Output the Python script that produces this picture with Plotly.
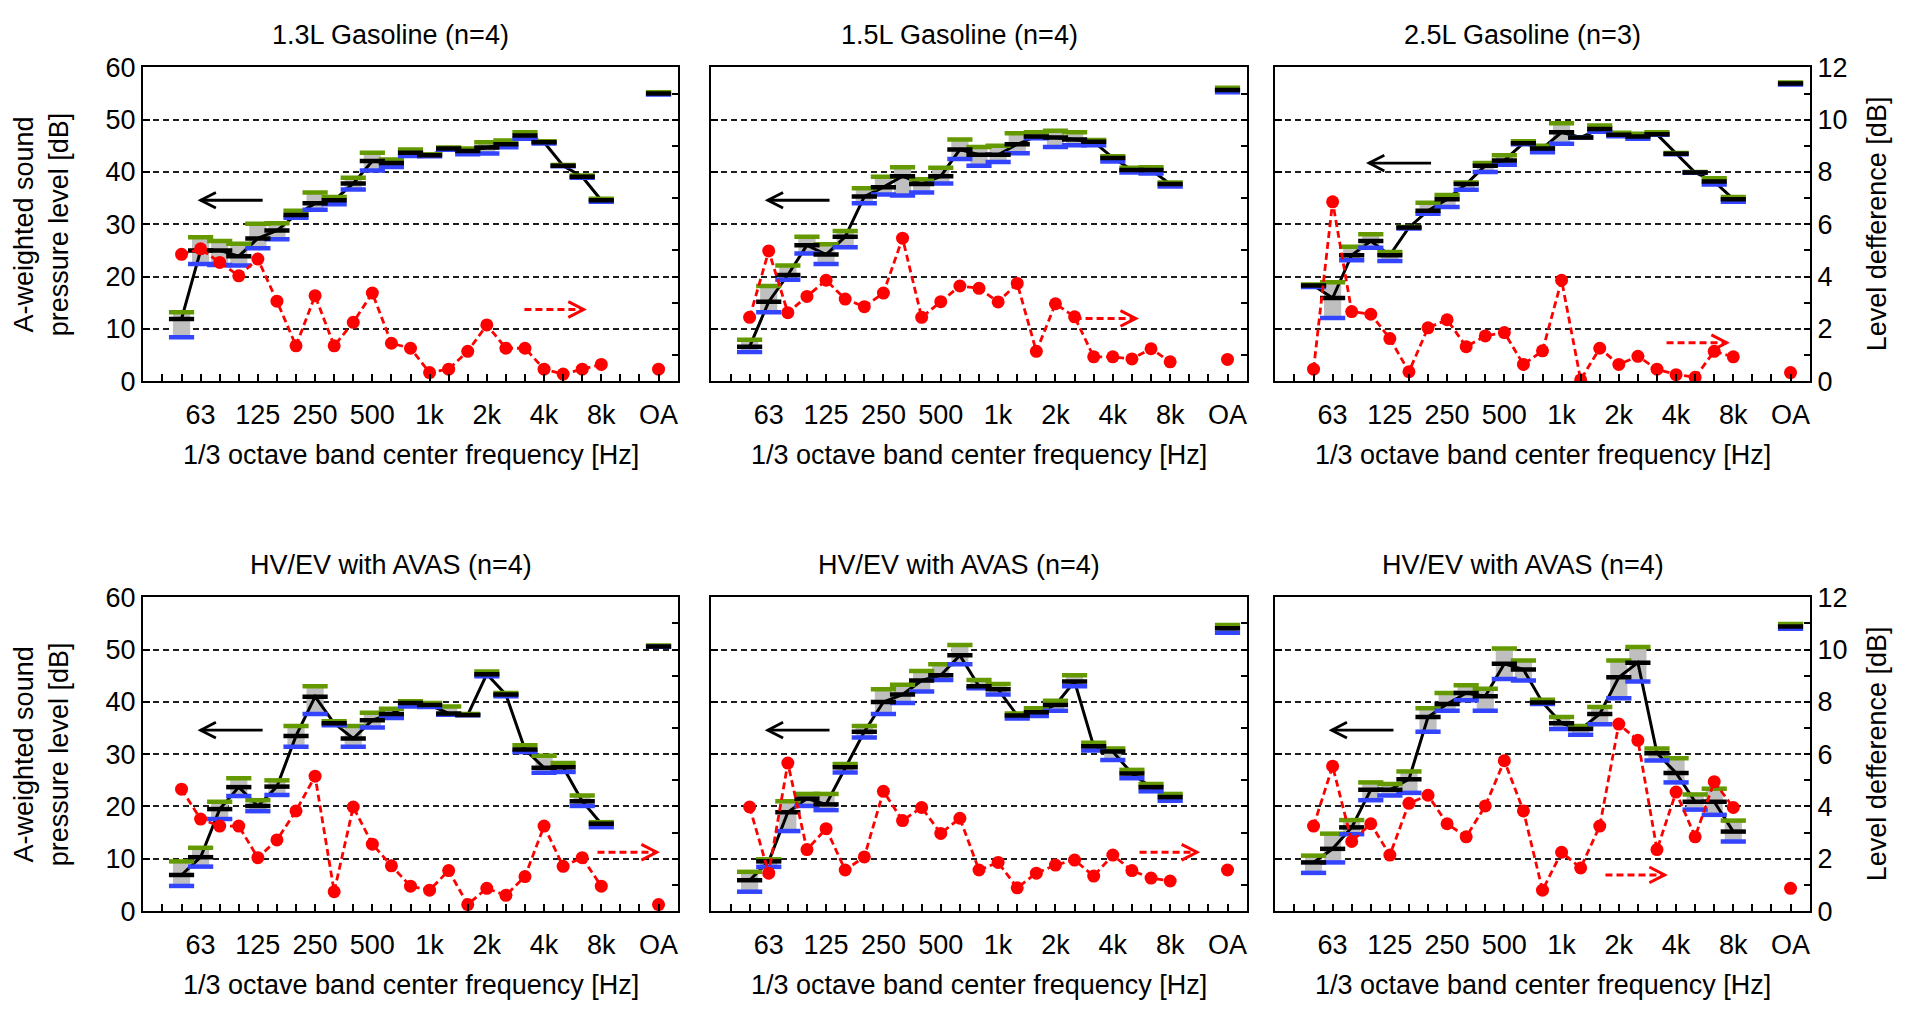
import plotly.graph_objects as go

# ---- category axis: 1/3 octave bands (with empty slots at both ends) ----
SLOTS = ["40", "50", "63", "80", "100", "125", "160", "200", "250", "315", "400",
         "500", "630", "800", "1k", "1.25k", "1.6k", "2k", "2.5k", "3.15k", "4k",
         "5k", "6.3k", "8k", "10k", "12.5k", "OA"]
LABELED = ["63", "125", "250", "500", "1k", "2k", "4k", "8k", "OA"]
BANDS = ["50", "63", "80", "100", "125", "160", "200", "250", "315", "400", "500",
         "630", "800", "1k", "1.25k", "1.6k", "2k", "2.5k", "3.15k", "4k", "5k",
         "6.3k", "8k", "OA"]

TITLES = ["1.3L Gasoline (n=4)", "1.5L Gasoline (n=4)", "2.5L Gasoline (n=3)",
          "HV/EV with AVAS (n=4)", "HV/EV with AVAS (n=4)", "HV/EV with AVAS (n=4)"]

# ---- 1.3L gasoline ----
G13_MEAN = [11.9, 25.0, 25.0, 23.9, 27.3, 28.8, 31.8, 34.0, 34.6, 37.8, 42.1, 41.7,
            43.7, 43.2, 44.5, 44.0, 44.7, 45.3, 47.0, 45.7, 41.2, 39.1, 34.6, 55.0]
G13_MAX = [13.2, 27.5, 26.8, 26.3, 30.1, 30.2, 32.6, 36.1, 35.2, 38.9, 43.7, 42.4,
           44.3, 43.4, 44.7, 44.5, 45.7, 46.0, 47.6, 45.9, 41.35, 39.35, 34.9, 55.25]
G13_MIN = [8.4, 22.4, 22.2, 22.1, 25.4, 27.15, 31.25, 32.8, 33.85, 36.65, 40.3, 40.95,
           43.05, 43.0, 44.25, 43.4, 43.55, 44.75, 46.35, 45.45, 41.1, 38.9, 34.3, 54.8]
G13_DIFF = [4.85, 5.06, 4.54, 4.03, 4.67, 3.06, 1.35, 3.27, 1.35, 2.25, 3.37, 1.45,
            1.26, 0.33, 0.46, 1.14, 2.15, 1.26, 1.26, 0.46, 0.27, 0.46, 0.64, 0.46]

# ---- 1.5L gasoline ----
G15_MEAN = [6.6, 15.2, 20.3, 26.0, 24.2, 27.6, 35.3, 37.1, 39.2, 37.7, 39.2, 44.3,
            43.3, 43.3, 45.3, 46.8, 46.6, 46.2, 45.8, 42.7, 40.4, 40.4, 37.7, 55.7]
G15_MAX = [7.9, 18.2, 22.1, 27.6, 26.2, 28.7, 36.9, 39.1, 40.9, 38.6, 40.8, 46.2,
           44.8, 45.0, 47.4, 47.6, 47.9, 47.6, 46.1, 43.0, 40.8, 40.9, 38.0, 56.1]
G15_MIN = [5.6, 13.2, 19.4, 24.4, 22.4, 25.6, 34.0, 35.7, 35.5, 36.1, 37.8, 42.5,
           41.2, 41.9, 43.6, 46.45, 44.8, 45.1, 45.1, 42.0, 39.9, 39.7, 37.25, 55.25]
G15_DIFF = [2.44, 4.98, 2.62, 3.24, 3.86, 3.14, 2.85, 3.37, 5.47, 2.44, 3.04, 3.64,
            3.55, 3.03, 3.74, 1.14, 2.96, 2.46, 0.93, 0.93, 0.85, 1.24, 0.74, 0.83]

# ---- 2.5L gasoline ----
G25_MEAN = [18.3, 15.9, 24.1, 26.8, 24.1, 29.4, 32.6, 34.8, 37.7, 41.2, 42.2, 45.5,
            44.5, 47.6, 46.6, 48.2, 47.1, 46.8, 47.2, 43.5, 39.9, 38.2, 34.8, 56.9]
G25_MAX = [18.5, 18.9, 25.7, 28.1, 24.7, 29.5, 34.1, 35.6, 38.0, 41.7, 43.2, 45.9,
           45.0, 49.3, 46.65, 48.9, 47.5, 47.3, 47.6, 43.65, 40.0, 38.8, 35.2, 57.1]
G25_MIN = [18.0, 12.1, 23.1, 25.5, 23.0, 29.2, 32.0, 33.3, 36.6, 40.0, 41.4, 45.3,
           43.8, 45.4, 46.6, 47.7, 46.85, 46.35, 47.1, 43.4, 39.85, 37.6, 34.3, 56.75]
G25_DIFF = [0.46, 6.86, 2.66, 2.56, 1.63, 0.36, 2.04, 2.35, 1.32, 1.73, 1.86, 0.64,
            1.16, 3.86, 0.05, 1.26, 0.64, 0.95, 0.46, 0.25, 0.15, 1.14, 0.93, 0.33]

# ---- HV/EV with AVAS, vehicle group A ----
EVA_MEAN = [6.9, 10.3, 19.5, 23.7, 20.1, 23.8, 33.5, 41.0, 35.9, 33.0, 36.5, 37.7,
            39.8, 39.4, 37.8, 37.5, 45.3, 41.4, 30.9, 27.4, 27.5, 21.0, 16.7, 50.6]
EVA_MAX = [9.5, 12.1, 20.9, 25.4, 21.2, 25.0, 35.4, 43.0, 36.3, 35.4, 37.9, 38.7,
           40.1, 39.8, 39.1, 37.7, 45.8, 41.7, 31.7, 29.7, 28.3, 22.1, 17.0, 50.8]
EVA_MIN = [4.8, 8.5, 17.6, 22.0, 19.1, 22.2, 31.4, 37.7, 35.55, 31.4, 35.1, 36.9,
           39.1, 39.0, 37.55, 37.45, 44.9, 41.1, 30.4, 26.45, 26.6, 20.1, 16.05, 50.55]
EVA_DIFF = [4.66, 3.52, 3.25, 3.25, 2.04, 2.72, 3.83, 5.16, 0.74, 3.98, 2.56, 1.73,
            0.95, 0.80, 1.55, 0.25, 0.87, 0.60, 1.32, 3.25, 1.71, 2.04, 0.95, 0.25]

# ---- HV/EV with AVAS, vehicle group B ----
EVB_MEAN = [5.9, 9.5, 18.9, 21.5, 20.4, 27.5, 34.3, 40.0, 41.4, 44.1, 45.1, 48.9,
            43.0, 42.4, 37.4, 38.0, 39.4, 43.9, 31.5, 30.5, 26.3, 23.7, 21.8, 54.1]
EVB_MAX = [7.5, 9.9, 21.0, 22.4, 22.4, 28.1, 35.4, 42.4, 43.3, 45.9, 47.2, 50.9,
           44.2, 43.4, 37.8, 38.8, 40.2, 45.1, 32.2, 31.1, 27.0, 24.3, 22.4, 54.7]
EVB_MIN = [3.7, 8.45, 15.3, 20.1, 19.3, 26.5, 33.2, 37.7, 39.8, 42.0, 44.2, 47.2,
           42.6, 41.4, 36.8, 37.3, 38.3, 43.0, 30.7, 28.9, 25.4, 22.9, 21.1, 53.2]
EVB_DIFF = [3.98, 1.45, 5.66, 2.35, 3.15, 1.57, 2.07, 4.58, 3.46, 3.96, 2.97, 3.55,
            1.57, 1.86, 0.89, 1.45, 1.76, 1.95, 1.34, 2.14, 1.55, 1.26, 1.15, 1.57]

# ---- HV/EV with AVAS, vehicle group C ----
EVC_MEAN = [9.3, 11.9, 16.0, 23.2, 23.2, 25.2, 37.1, 39.6, 41.7, 41.1, 47.3, 46.2,
            39.9, 35.9, 34.8, 37.7, 44.7, 47.5, 30.2, 26.4, 20.9, 20.9, 15.2, 54.4]
EVC_MAX = [10.6, 14.8, 17.4, 24.6, 24.3, 26.7, 38.8, 41.7, 43.2, 42.5, 50.2, 47.9,
           40.4, 37.1, 35.4, 39.0, 47.9, 50.5, 31.1, 29.2, 22.3, 23.4, 17.3, 54.9]
EVC_MIN = [7.3, 9.3, 14.7, 21.2, 22.1, 22.6, 34.3, 38.3, 40.3, 38.3, 44.4, 44.1,
           39.6, 34.8, 33.7, 35.7, 40.7, 43.9, 28.8, 24.6, 19.4, 18.4, 13.3, 54.0]
EVC_DIFF = [3.25, 5.54, 2.66, 3.34, 2.14, 4.12, 4.43, 3.34, 2.84, 4.02, 5.75, 3.83,
            0.80, 2.25, 1.65, 3.25, 7.15, 6.53, 2.35, 4.55, 2.84, 4.95, 3.96, 0.87]

PANELS = [
    (G13_MEAN, G13_MAX, G13_MIN, G13_DIFF),
    (G15_MEAN, G15_MAX, G15_MIN, G15_DIFF),
    (G25_MEAN, G25_MAX, G25_MIN, G25_DIFF),
    (EVA_MEAN, EVA_MAX, EVA_MIN, EVA_DIFF),
    (EVB_MEAN, EVB_MAX, EVB_MIN, EVB_DIFF),
    (EVC_MEAN, EVC_MAX, EVC_MIN, EVC_DIFF),
]

# axis-pointer arrows: (tip slot, tail slot, level on left axis)
LEFT_ARROWS = [(2.0, 5.25, 34.6), (1.95, 5.18, 34.6), (3.91, 7.16, 41.7),
               (2.0, 5.25, 34.6), (1.95, 5.18, 34.6), (1.95, 5.19, 34.6)]
RIGHT_ARROWS = [(22.07, 18.97, 13.7), (21.2, 18.0, 12.0), (22.65, 19.5, 7.35),
                (25.9, 22.8, 11.25), (24.4, 21.4, 11.25), (19.4, 16.3, 6.92)]

# ---- page geometry (pixels) ----
W, H = 1911, 1017
COLS = [(143, 678), (711, 1247), (1275, 1810)]
ROWS = [(54, 377.3), (600, 923.3)]
TITLE_Y = [21, 567]
TITLE_DX = -20
XLABEL_Y = [453, 999]

FONT = "Liberation Sans, Arial, sans-serif"
FS = 27
GREEN = "#649a00"
BLUE = "#3344ff"
GREY = "#bfbfbf"
RED = "#ff0000"

xpos = [SLOTS.index(b) for b in BANDS]
ticktext = [s if s in LABELED else "" for s in SLOTS]

fig = go.Figure()
layout = dict(
    width=W, height=H, margin=dict(l=0, r=0, t=0, b=0),
    paper_bgcolor="white", plot_bgcolor="white", showlegend=False,
    font=dict(family=FONT, size=FS, color="black"), barmode="overlay",
)
annotations = []
shapes = []

for k, (mean, mx, mn, diff) in enumerate(PANELS):
    r, c = divmod(k, 3)
    i = k + 1
    xa, ya, ya2 = f"x{i}", f"y{i}", f"y{i + 6}"
    x0, x1 = COLS[c]
    y0, y1 = ROWS[r]

    layout[f"xaxis{i}"] = dict(
        domain=[x0 / W, x1 / W], anchor=ya, range=[-1.02, 27.02],
        tickmode="array", tickvals=list(range(len(SLOTS))), ticktext=ticktext,
        ticks="inside", ticklen=7, tickwidth=1.5, tickcolor="black",
        showline=True, linecolor="black", linewidth=2.2, mirror=True,
        showgrid=False, zeroline=False, tickfont=dict(size=FS),
        ticklabelstandoff=8,
    )
    layout[f"yaxis{i}"] = dict(
        domain=[1 - y1 / H, 1 - y0 / H], anchor=xa, range=[0, 60],
        tickmode="array", tickvals=list(range(0, 61, 10)),
        ticks="inside", ticklen=7, tickwidth=1.5, tickcolor="black",
        showline=True, linecolor="black", linewidth=2.2, mirror=True,
        showgrid=True, gridcolor="#1e1e1e", gridwidth=1.5, griddash="6px,4px",
        zeroline=False, showticklabels=(c == 0), tickfont=dict(size=FS),
    )
    layout[f"yaxis{i + 6}"] = dict(
        overlaying=ya, anchor=xa, side="right", range=[0, 12],
        tickmode="array", tickvals=list(range(13)),
        ticktext=[str(v) if v % 2 == 0 else "" for v in range(13)],
        ticks="inside", ticklen=6, tickwidth=1.5, tickcolor="black",
        showline=True, linecolor="black", linewidth=2.2,
        showgrid=False, zeroline=False, showticklabels=(c == 2),
        tickfont=dict(size=FS),
    )

    # min-max range box
    fig.add_trace(go.Bar(
        x=xpos, y=[a - b for a, b in zip(mx, mn)], base=mn, width=0.9,
        marker=dict(color=GREY, line=dict(width=0)), xaxis=xa, yaxis=ya,
        hoverinfo="skip"))
    # mean spectrum line (bands only)
    fig.add_trace(go.Scatter(
        x=xpos[:-1], y=mean[:-1], mode="lines",
        line=dict(color="black", width=3), xaxis=xa, yaxis=ya))
    # max / min / mean tick marks
    for vals, col in ((mx, GREEN), (mn, BLUE), (mean, "black")):
        fig.add_trace(go.Scatter(
            x=xpos, y=vals, mode="markers",
            marker=dict(symbol="line-ew", size=18, line=dict(color=col, width=4.5)),
            xaxis=xa, yaxis=ya))
    # level difference on the right axis
    fig.add_trace(go.Scatter(
        x=xpos[:-1], y=diff[:-1], mode="lines+markers",
        line=dict(color=RED, width=2.8, dash="7px,4px"),
        marker=dict(symbol="circle", size=13, color=RED),
        xaxis=xa, yaxis=ya2))
    fig.add_trace(go.Scatter(
        x=xpos[-1:], y=diff[-1:], mode="markers",
        marker=dict(symbol="circle", size=13, color=RED),
        xaxis=xa, yaxis=ya2))

    cx = (x0 + x1) / 2
    annotations.append(dict(
        text=TITLES[k], x=(cx + TITLE_DX) / W, y=1 - TITLE_Y[r] / H,
        xref="paper", yref="paper",
        xanchor="center", yanchor="middle", showarrow=False, font=dict(size=FS)))
    annotations.append(dict(
        text="1/3 octave band center frequency [Hz]", x=cx / W, y=1 - XLABEL_Y[r] / H,
        xref="paper", yref="paper", xanchor="center", yanchor="middle",
        showarrow=False, font=dict(size=FS)))

    # arrow pointing to the left axis
    tip, tail, lv = LEFT_ARROWS[k]
    shapes.append(dict(type="line", xref=xa, yref=ya, x0=tail, x1=tip, y0=lv, y1=lv,
                       line=dict(color="black", width=2.8)))
    shapes.append(dict(type="path", xref=xa, yref=ya,
                       path=f"M {tip + 0.8},{lv + 1.5} L {tip},{lv} L {tip + 0.8},{lv - 1.5}",
                       line=dict(color="black", width=2.8)))
    # arrow pointing to the right axis
    tip, tail, lv = RIGHT_ARROWS[k]
    shapes.append(dict(type="line", xref=xa, yref=ya, x0=tail, x1=tip, y0=lv, y1=lv,
                       line=dict(color=RED, width=3, dash="7px,4px")))
    shapes.append(dict(type="path", xref=xa, yref=ya,
                       path=f"M {tip - 0.8},{lv + 1.5} L {tip},{lv} L {tip - 0.8},{lv - 1.5}",
                       line=dict(color=RED, width=3)))

for r in range(2):
    yc = 1 - (ROWS[r][0] + ROWS[r][1]) / 2 / H
    annotations.append(dict(
        text="A-weighted sound<br>pressure level [dB]", x=41 / W, y=yc,
        xref="paper", yref="paper", xanchor="center", yanchor="middle",
        textangle=-90, showarrow=False, font=dict(size=FS)))
    annotations.append(dict(
        text="Level defference [dB]", x=1877 / W, y=yc,
        xref="paper", yref="paper", xanchor="center", yanchor="middle",
        textangle=-90, showarrow=False, font=dict(size=FS)))

layout["annotations"] = annotations
layout["shapes"] = shapes
fig.update_layout(**layout)
fig.write_html("out.html")
